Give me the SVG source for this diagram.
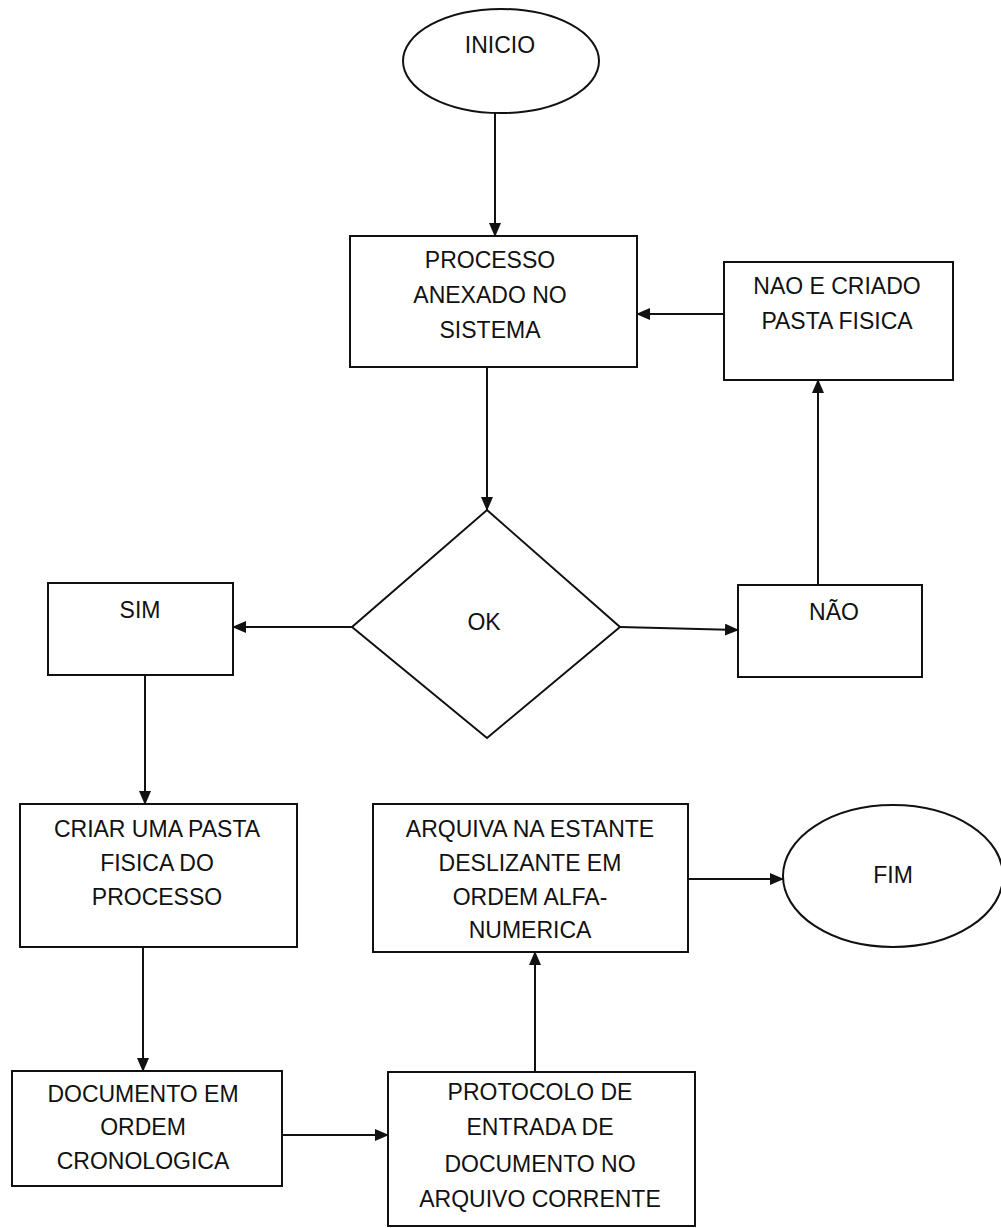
<svg xmlns="http://www.w3.org/2000/svg" width="1001" height="1228" viewBox="0 0 1001 1228">
<style>
.shape{fill:#fff;stroke:#111;stroke-width:2}
.t{font-family:"Liberation Sans",Arial,sans-serif;font-size:23px;fill:#111;text-anchor:middle}
.c{stroke:#111;stroke-width:2;fill:none;marker-end:url(#ah)}
</style>
<defs>
<marker id="ah" markerUnits="userSpaceOnUse" markerWidth="14" markerHeight="12" refX="13" refY="6" orient="auto">
<path d="M0,0 L14,6 L0,12 z" fill="#111"/>
</marker>
</defs>
<rect width="1001" height="1228" fill="#fff"/>
<g id="connectors">
<path class="c" d="M495,113 L495,236"/>
<path class="c" d="M487,367 L487,510"/>
<path class="c" d="M352,627 L233,627"/>
<path class="c" d="M620,627 L738,630"/>
<path class="c" d="M818,585 L818,380"/>
<path class="c" d="M724,314 L637,314"/>
<path class="c" d="M145,675 L145,804"/>
<path class="c" d="M143,947 L143,1071"/>
<path class="c" d="M282,1135 L388,1135"/>
<path class="c" d="M535,1072 L535,952"/>
<path class="c" d="M688,879 L783,879"/>
</g>
<g id="inicio">
<ellipse class="shape" cx="501" cy="61" rx="98" ry="52"/>
<text class="t" x="500" y="53">INICIO</text>
</g>
<g id="processo">
<rect class="shape" x="350" y="236" width="287" height="131"/>
<text class="t" x="490" y="268">PROCESSO</text>
<text class="t" x="490" y="303">ANEXADO NO</text>
<text class="t" x="490" y="338">SISTEMA</text>
</g>
<g id="nao-criado">
<rect class="shape" x="724" y="262" width="229" height="118"/>
<text class="t" x="837" y="294">NAO E CRIADO</text>
<text class="t" x="837" y="329">PASTA FISICA</text>
</g>
<g id="ok">
<polygon class="shape" points="487,510 620,627 487,738 352,627"/>
<text class="t" x="484" y="630">OK</text>
</g>
<g id="sim">
<rect class="shape" x="48" y="583" width="185" height="92"/>
<text class="t" x="140" y="618">SIM</text>
</g>
<g id="nao">
<rect class="shape" x="738" y="585" width="184" height="92"/>
<text class="t" x="834" y="620">NÃO</text>
</g>
<g id="criar">
<rect class="shape" x="20" y="804" width="277" height="143"/>
<text class="t" x="157" y="837">CRIAR UMA PASTA</text>
<text class="t" x="157" y="871">FISICA DO</text>
<text class="t" x="157" y="905">PROCESSO</text>
</g>
<g id="arquiva">
<rect class="shape" x="373" y="804" width="315" height="148"/>
<text class="t" x="530" y="837">ARQUIVA NA ESTANTE</text>
<text class="t" x="530" y="871">DESLIZANTE EM</text>
<text class="t" x="530" y="905">ORDEM ALFA-</text>
<text class="t" x="530" y="938">NUMERICA</text>
</g>
<g id="fim">
<ellipse class="shape" cx="893" cy="876" rx="110" ry="71"/>
<text class="t" x="893" y="883">FIM</text>
</g>
<g id="documento">
<rect class="shape" x="12" y="1071" width="270" height="115"/>
<text class="t" x="143" y="1102">DOCUMENTO EM</text>
<text class="t" x="143" y="1135">ORDEM</text>
<text class="t" x="143" y="1169">CRONOLOGICA</text>
</g>
<g id="protocolo">
<rect class="shape" x="388" y="1072" width="307" height="154"/>
<text class="t" x="540" y="1100">PROTOCOLO DE</text>
<text class="t" x="540" y="1135">ENTRADA DE</text>
<text class="t" x="540" y="1172">DOCUMENTO NO</text>
<text class="t" x="540" y="1207">ARQUIVO CORRENTE</text>
</g>
</svg>
